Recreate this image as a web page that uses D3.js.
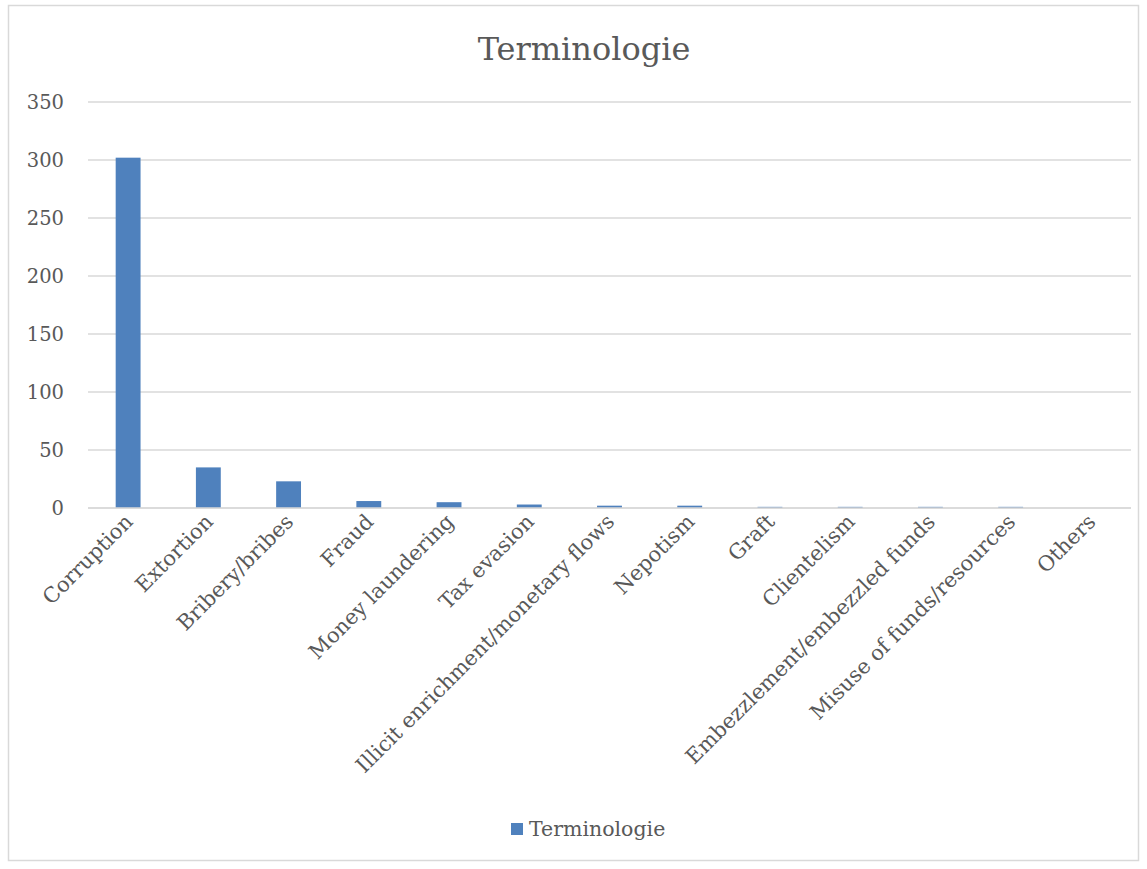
<!DOCTYPE html>
<html>
<head>
<meta charset="utf-8">
<script src="https://cdn.jsdelivr.net/npm/d3@7"></script>
<style>
  html, body { margin: 0; padding: 0; background: #fff; }
  svg { display: block; }
</style>
</head>
<body>
<svg id="chart" width="1147" height="869"></svg>
<script>
const categories = ["Corruption", "Extortion", "Bribery/bribes", "Fraud", "Money laundering", "Tax evasion",
  "Illicit enrichment/monetary flows", "Nepotism", "Graft", "Clientelism",
  "Embezzlement/embezzled funds", "Misuse of funds/resources", "Others"];
const values = [302, 35, 23, 6, 5, 3, 2, 2, 1, 1, 1, 1, 0];
const yTicks = [0, 50, 100, 150, 200, 250, 300, 350];
const seriesName = "Terminologie";
const titleText = "Terminologie";

const font = "'DejaVu Serif', serif";
const textColor = "#595959";
const barColor = "#4f81bd";

const svg = d3.select("#chart");
svg.append("rect").attr("x", 8.5).attr("y", 5.5).attr("width", 1130).attr("height", 855)
  .attr("fill", "#fff").attr("stroke", "#d9d9d9").attr("stroke-width", 1.5);

const plot = { left: 88, right: 1131, top: 102, bottom: 508 };

const x = d3.scaleBand().domain(categories).range([plot.left, plot.right]).paddingInner(0.69).paddingOuter(0.345);
const y = d3.scaleLinear().domain([0, 350]).range([plot.bottom, plot.top]);

// gridlines
svg.append("g").selectAll("line").data(yTicks).join("line")
  .attr("x1", plot.left).attr("x2", plot.right)
  .attr("y1", d => y(d)).attr("y2", d => y(d))
  .attr("stroke", "#d9d9d9").attr("stroke-width", 1.5);

// y axis labels
const yAxis = svg.append("g").attr("transform", `translate(${plot.left},0)`)
  .call(d3.axisLeft(y).tickValues(yTicks).tickSize(0).tickPadding(24));
yAxis.select(".domain").remove();
yAxis.selectAll("text").attr("font-family", font).attr("font-size", 19.5).attr("fill", textColor);

// bars
svg.append("g").selectAll("rect").data(categories).join("rect")
  .attr("x", d => x(d))
  .attr("width", x.bandwidth())
  .attr("y", (d, i) => y(values[i]))
  .attr("height", (d, i) => y(0) - y(values[i]))
  .attr("fill", barColor);

// x axis labels
const xAxis = svg.append("g").attr("transform", `translate(0,${plot.bottom})`)
  .call(d3.axisBottom(x).tickSize(0).tickPadding(0));
xAxis.select(".domain").remove();
xAxis.selectAll("text")
  .attr("font-family", font).attr("font-size", 21).attr("fill", textColor)
  .attr("text-anchor", "end")
  .attr("dy", "0")
  .attr("transform", "translate(6,15) rotate(-45)");

// baseline
svg.append("line").attr("x1", plot.left).attr("x2", plot.right)
  .attr("y1", y(0)).attr("y2", y(0)).attr("stroke", "#d9d9d9").attr("stroke-width", 1.5);

// title
svg.append("text").attr("x", 584).attr("y", 60).attr("text-anchor", "middle")
  .attr("font-family", font).attr("font-size", 32).attr("fill", textColor).text(titleText);

// legend
const lg = svg.append("g");
lg.append("rect").attr("x", 511).attr("y", 823).attr("width", 12).attr("height", 12).attr("fill", barColor);
lg.append("text").attr("x", 529).attr("y", 836).attr("font-family", font).attr("font-size", 20.5)
  .attr("fill", textColor).text(seriesName);
</script>
</body>
</html>
